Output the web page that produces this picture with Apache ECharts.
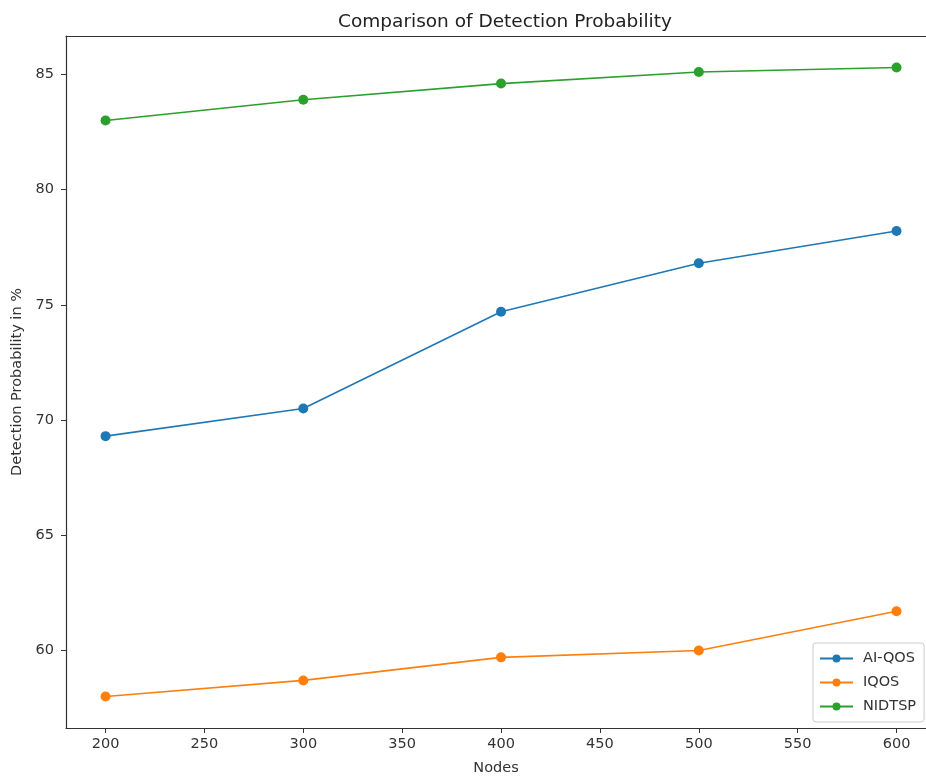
<!DOCTYPE html>
<html>
<head>
<meta charset="utf-8">
<script src="https://cdn.jsdelivr.net/npm/echarts@6/dist/echarts.min.js"></script>
<style>
html,body{margin:0;padding:0;background:#fff;}
#chart{width:926px;height:778px;}
</style>
</head>
<body>
<div id="chart"></div>
<script>
var nodes = [200, 300, 400, 500, 600];
var aiQos = [69.3, 70.5, 74.7, 76.8, 78.2];
var iqos = [58.0, 58.7, 59.7, 60.0, 61.7];
var nidtsp = [83.0, 83.9, 84.6, 85.1, 85.3];
var xTicks = [200, 250, 300, 350, 400, 450, 500, 550, 600];
var yTicks = [60, 65, 70, 75, 80, 85];

function pairs(vals) { return nodes.map(function (n, i) { return [n, vals[i]]; }); }

var font = 'DejaVu Sans';
var axisColor = '#333';
var chart = echarts.init(document.getElementById('chart'));
function mk(name, vals, color) {
  return {
    name: name, type: 'line', data: pairs(vals),
    symbol: 'circle', symbolSize: 10,
    lineStyle: { width: 1.6, color: color },
    itemStyle: { color: color },
    emphasis: { disabled: true },
    animation: false
  };
}
chart.setOption({
  animation: false,
  color: ['#1f77b4', '#ff7f0e', '#2ca02c'],
  title: {
    text: 'Comparison of Detection Probability',
    left: 500, top: 8, textAlign: 'center',
    textStyle: { fontFamily: font, fontSize: 18.5, fontWeight: 'normal', color: '#222' }
  },
  grid: { left: 66, top: 36, right: 0, bottom: 50, show: false, containLabel: false, outerBoundsMode: 'none' },
  legend: {
    orient: 'vertical', left: 813, top: 643,
    itemWidth: 33, itemHeight: 10, itemGap: 9,
    padding: [8, 8, 8, 6],
    borderColor: '#ccc', borderWidth: 1, borderRadius: 3, backgroundColor: '#fff',
    textStyle: { fontFamily: font, fontSize: 14.5, color: '#333', padding: [0, 0, 0, 5] },
    data: ['AI-QOS', 'IQOS', 'NIDTSP']
  },
  xAxis: [{
    type: 'value', min: 180, max: 614.9,
    name: 'Nodes', nameLocation: 'middle', nameGap: 33,
    nameTextStyle: { fontFamily: font, fontSize: 14.5, color: '#333' },
    axisLine: { show: true, lineStyle: { color: axisColor, width: 1.2 } },
    axisTick: { show: true, length: 5, lineStyle: { color: axisColor }, customValues: xTicks },
    axisLabel: { fontFamily: font, fontSize: 14.5, color: '#333', margin: 9, customValues: xTicks },
    splitLine: { show: false }
  }, {
    type: 'value', min: 180, max: 614.9, position: 'top',
    axisLine: { show: true, lineStyle: { color: axisColor, width: 1.2 } },
    axisTick: { show: false }, axisLabel: { show: false }, splitLine: { show: false }
  }],
  yAxis: {
    type: 'value', min: 56.635, max: 86.665,
    name: 'Detection Probability in %', nameLocation: 'middle', nameGap: 39, nameRotate: 90,
    nameTextStyle: { fontFamily: font, fontSize: 14.5, color: '#333' },
    axisLine: { show: true, lineStyle: { color: axisColor, width: 1.2 } },
    axisTick: { show: true, length: 5, lineStyle: { color: axisColor }, customValues: yTicks },
    axisLabel: { fontFamily: font, fontSize: 14.5, color: '#333', margin: 12, customValues: yTicks },
    splitLine: { show: false }
  },
  series: [
    mk('AI-QOS', aiQos, '#1f77b4'),
    mk('IQOS', iqos, '#ff7f0e'),
    mk('NIDTSP', nidtsp, '#2ca02c')
  ]
});
</script>
</body>
</html>
